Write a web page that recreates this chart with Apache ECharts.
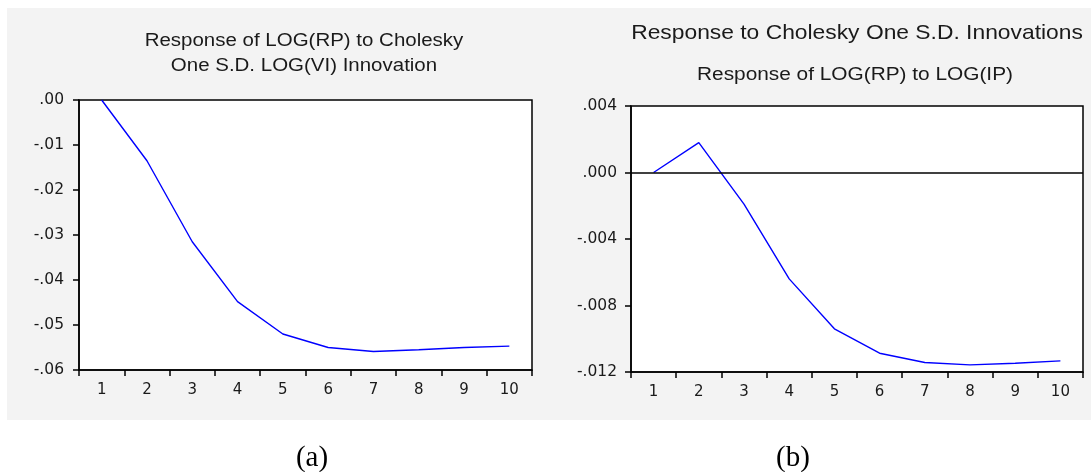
<!DOCTYPE html>
<html>
<head>
<meta charset="utf-8">
<script src="https://cdn.jsdelivr.net/npm/echarts@6/dist/echarts.min.js"></script>
<style>html,body{margin:0;padding:0;background:#fff;}#c{width:1091px;height:472px;}</style>
</head>
<body>
<div id="c"></div>
<script>
var periods = ['1','2','3','4','5','6','7','8','9','10'];
var respVI = [0.0000, -0.0135, -0.0315, -0.0448, -0.0520, -0.0550, -0.0559, -0.0555, -0.0550, -0.0547];
var respIP = [0.0000, 0.0018, -0.0019, -0.0064, -0.0094, -0.01087, -0.01143, -0.01157, -0.01147, -0.01133];
var titleA1 = 'Response of LOG(RP) to Cholesky';
var titleA2 = 'One S.D. LOG(VI) Innovation';
var titleB1 = 'Response to Cholesky One S.D. Innovations';
var titleB2 = 'Response of LOG(RP) to LOG(IP)';
var captions = ['(a)', '(b)'];

var chart = echarts.init(document.getElementById('c'), null, {renderer: 'canvas'});
var tick = 'DejaVu Sans, Verdana, sans-serif';
var arial = '"Liberation Sans", Arial, sans-serif';
var txt = '#1a1a1a';
function fmt(d) { return function (v) { return v.toFixed(d).replace('0.', '.'); }; }
function xAx(gi) {
  return {
    type: 'category', gridIndex: gi, data: periods, boundaryGap: true,
    axisLine: {show: true, onZero: false, lineStyle: {color: '#000', width: 1.5}},
    axisTick: {show: true, length: 6, inside: false, alignWithLabel: false, lineStyle: {color: '#000', width: 1.5}},
    axisLabel: {color: txt, fontSize: 15, fontFamily: tick, margin: 13},
    splitLine: {show: false}
  };
}
function yAx(gi, min, max, iv, d, m) {
  return {
    type: 'value', gridIndex: gi, min: min, max: max, interval: iv,
    axisLine: {show: true, lineStyle: {color: '#000', width: 1.5}},
    axisTick: {show: true, length: 6, inside: false, lineStyle: {color: '#000', width: 1.5}},
    axisLabel: {color: txt, fontSize: 15.5, fontFamily: tick, margin: m, formatter: fmt(d)},
    splitLine: {show: false}
  };
}
function ttl(s, x, y, size, sx) {
  return {type: 'text', x: x, y: y, scaleX: sx, z: 10,
    style: {text: s, font: size + 'px ' + arial, fill: txt, textAlign: 'center', textVerticalAlign: 'middle'}};
}
var serif = '"Liberation Serif", "Times New Roman", serif';
chart.setOption({
  animation: false,
  backgroundColor: '#fff',
  graphic: [
    {type: 'rect', z: -10, shape: {x: 7, y: 8, width: 1084, height: 412}, style: {fill: '#f3f3f3'}},
    ttl(titleA1, 304, 41, 17.5, 1.17),
    ttl(titleA2, 304, 66, 17.5, 1.17),
    ttl(titleB1, 857, 33, 21, 1.087),
    ttl(titleB2, 855, 75, 17.5, 1.19),
    {type: 'text', x: 312, y: 458, style: {text: captions[0], font: '29px ' + serif, fill: '#000', textAlign: 'center', textVerticalAlign: 'middle'}},
    {type: 'text', x: 793, y: 458, style: {text: captions[1], font: '29px ' + serif, fill: '#000', textAlign: 'center', textVerticalAlign: 'middle'}}
  ],
  grid: [
    {left: 79, top: 100, width: 453, height: 270, show: true, backgroundColor: '#fff', borderColor: '#000', borderWidth: 1.5},
    {left: 631, top: 106, width: 452, height: 266, show: true, backgroundColor: '#fff', borderColor: '#000', borderWidth: 1.5}
  ],
  xAxis: [xAx(0), xAx(1)],
  yAxis: [yAx(0, -0.06, 0, 0.01, 2, 15), yAx(1, -0.012, 0.004, 0.004, 3, 14)],
  series: [
    {type: 'line', xAxisIndex: 0, yAxisIndex: 0, data: respVI, showSymbol: false, symbol: 'none',
     lineStyle: {color: '#0000ff', width: 1.4}},
    {type: 'line', xAxisIndex: 1, yAxisIndex: 1, data: respIP, showSymbol: false, symbol: 'none',
     lineStyle: {color: '#0000ff', width: 1.4},
     markLine: {silent: true, symbol: ['none', 'none'], label: {show: false},
                lineStyle: {color: '#000', width: 1.5, type: 'solid'}, data: [{yAxis: 0}]}}
  ]
});
</script>
</body>
</html>
